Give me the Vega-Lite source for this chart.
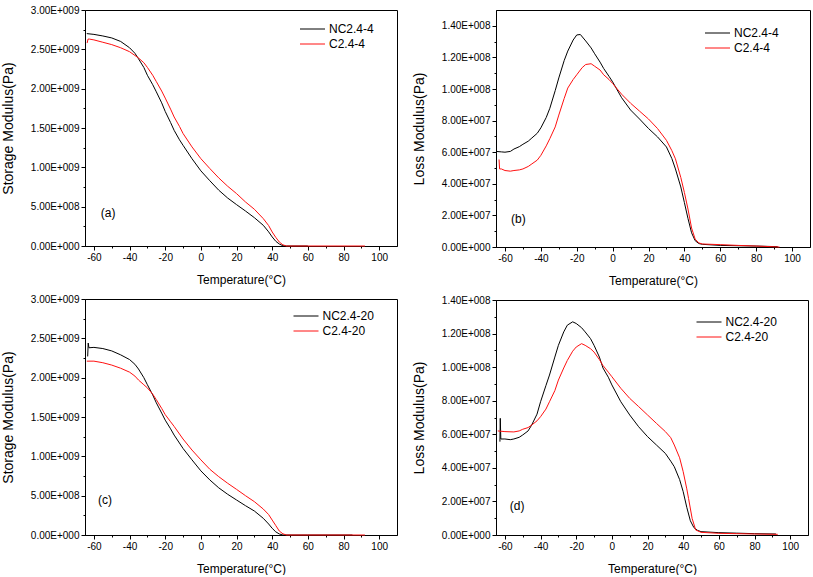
{
  "$schema": "https://vega.github.io/schema/vega-lite/v6.json",
  "padding": {"left": 0, "top": 4, "right": 2, "bottom": 0},
  "background": "white",
  "config": {
    "font": "Liberation Sans",
    "view": {"stroke": "#000000", "strokeWidth": 1},
    "axis": {"domainColor": "#000000", "tickColor": "#000000", "labelColor": "#000000", "titleColor": "#000000", "labelFontSize": 10, "labelFont": "Liberation Sans", "titleFont": "Liberation Sans", "titleFontWeight": "normal", "grid": false, "tickSize": 4, "labelPadding": 2, "labelOverlap": false, "labelFlush": false, "tickCount": 50},
    "legend": {"labelFontSize": 12, "labelFont": "Liberation Sans", "labelColor": "#000000", "symbolType": "M-2.5,0H2.5", "symbolSize": 100, "symbolStrokeWidth": 1, "rowPadding": 3, "labelOffset": 10.5, "padding": 0, "title": null},
    "text": {"font": "Liberation Sans", "fontSize": 12, "color": "#000000"}
  },
  "datasets": {
    "a": [
      {"s": "NC2.4-4", "T": -64, "v": 2.70e9}, {"s": "NC2.4-4", "T": -60, "v": 2.69e9}, {"s": "NC2.4-4", "T": -55, "v": 2.67e9}, {"s": "NC2.4-4", "T": -50, "v": 2.645e9}, {"s": "NC2.4-4", "T": -45, "v": 2.60e9}, {"s": "NC2.4-4", "T": -40, "v": 2.52e9}, {"s": "NC2.4-4", "T": -37, "v": 2.45e9}, {"s": "NC2.4-4", "T": -35, "v": 2.38e9}, {"s": "NC2.4-4", "T": -32, "v": 2.27e9}, {"s": "NC2.4-4", "T": -30, "v": 2.17e9}, {"s": "NC2.4-4", "T": -27, "v": 2.05e9}, {"s": "NC2.4-4", "T": -25, "v": 1.96e9}, {"s": "NC2.4-4", "T": -22, "v": 1.82e9}, {"s": "NC2.4-4", "T": -20, "v": 1.71e9}, {"s": "NC2.4-4", "T": -17, "v": 1.57e9}, {"s": "NC2.4-4", "T": -15, "v": 1.47e9}, {"s": "NC2.4-4", "T": -12, "v": 1.35e9}, {"s": "NC2.4-4", "T": -10, "v": 1.28e9}, {"s": "NC2.4-4", "T": -5, "v": 1.11e9}, {"s": "NC2.4-4", "T": 0, "v": 0.955e9}, {"s": "NC2.4-4", "T": 5, "v": 0.83e9}, {"s": "NC2.4-4", "T": 10, "v": 0.71e9}, {"s": "NC2.4-4", "T": 15, "v": 0.61e9}, {"s": "NC2.4-4", "T": 20, "v": 0.526e9}, {"s": "NC2.4-4", "T": 25, "v": 0.445e9}, {"s": "NC2.4-4", "T": 30, "v": 0.36e9}, {"s": "NC2.4-4", "T": 35, "v": 0.263e9}, {"s": "NC2.4-4", "T": 38, "v": 0.18e9}, {"s": "NC2.4-4", "T": 40, "v": 0.115e9}, {"s": "NC2.4-4", "T": 42, "v": 0.06e9}, {"s": "NC2.4-4", "T": 44, "v": 0.025e9}, {"s": "NC2.4-4", "T": 46, "v": 0.003e9}, {"s": "NC2.4-4", "T": 48, "v": 0}, {"s": "NC2.4-4", "T": 60, "v": 0},
      {"s": "C2.4-4", "T": -63.8, "v": 2.58e9}, {"s": "C2.4-4", "T": -63.3, "v": 2.63e9}, {"s": "C2.4-4", "T": -62.5, "v": 2.63e9}, {"s": "C2.4-4", "T": -60, "v": 2.62e9}, {"s": "C2.4-4", "T": -55, "v": 2.59e9}, {"s": "C2.4-4", "T": -50, "v": 2.56e9}, {"s": "C2.4-4", "T": -45, "v": 2.52e9}, {"s": "C2.4-4", "T": -40, "v": 2.47e9}, {"s": "C2.4-4", "T": -35, "v": 2.39e9}, {"s": "C2.4-4", "T": -32, "v": 2.33e9}, {"s": "C2.4-4", "T": -30, "v": 2.27e9}, {"s": "C2.4-4", "T": -27, "v": 2.17e9}, {"s": "C2.4-4", "T": -25, "v": 2.09e9}, {"s": "C2.4-4", "T": -22, "v": 1.97e9}, {"s": "C2.4-4", "T": -20, "v": 1.88e9}, {"s": "C2.4-4", "T": -17, "v": 1.74e9}, {"s": "C2.4-4", "T": -15, "v": 1.64e9}, {"s": "C2.4-4", "T": -12, "v": 1.52e9}, {"s": "C2.4-4", "T": -10, "v": 1.43e9}, {"s": "C2.4-4", "T": -5, "v": 1.26e9}, {"s": "C2.4-4", "T": 0, "v": 1.11e9}, {"s": "C2.4-4", "T": 5, "v": 0.985e9}, {"s": "C2.4-4", "T": 10, "v": 0.866e9}, {"s": "C2.4-4", "T": 15, "v": 0.76e9}, {"s": "C2.4-4", "T": 20, "v": 0.666e9}, {"s": "C2.4-4", "T": 25, "v": 0.56e9}, {"s": "C2.4-4", "T": 30, "v": 0.467e9}, {"s": "C2.4-4", "T": 35, "v": 0.348e9}, {"s": "C2.4-4", "T": 38, "v": 0.26e9}, {"s": "C2.4-4", "T": 40, "v": 0.178e9}, {"s": "C2.4-4", "T": 42, "v": 0.11e9}, {"s": "C2.4-4", "T": 44, "v": 0.05e9}, {"s": "C2.4-4", "T": 46, "v": 0.015e9}, {"s": "C2.4-4", "T": 48, "v": 0}, {"s": "C2.4-4", "T": 60, "v": 0}, {"s": "C2.4-4", "T": 92, "v": 0}
    ],
    "b": [
      {"s": "NC2.4-4", "T": -65, "v": 6.05e7}, {"s": "NC2.4-4", "T": -62, "v": 6.02e7}, {"s": "NC2.4-4", "T": -60, "v": 6.0e7}, {"s": "NC2.4-4", "T": -57, "v": 6.05e7}, {"s": "NC2.4-4", "T": -55, "v": 6.2e7}, {"s": "NC2.4-4", "T": -52, "v": 6.35e7}, {"s": "NC2.4-4", "T": -50, "v": 6.5e7}, {"s": "NC2.4-4", "T": -47, "v": 6.7e7}, {"s": "NC2.4-4", "T": -45, "v": 6.9e7}, {"s": "NC2.4-4", "T": -42, "v": 7.2e7}, {"s": "NC2.4-4", "T": -40, "v": 7.54e7}, {"s": "NC2.4-4", "T": -37, "v": 8.2e7}, {"s": "NC2.4-4", "T": -35, "v": 8.78e7}, {"s": "NC2.4-4", "T": -32, "v": 9.9e7}, {"s": "NC2.4-4", "T": -30, "v": 10.7e7}, {"s": "NC2.4-4", "T": -27, "v": 11.8e7}, {"s": "NC2.4-4", "T": -25, "v": 12.4e7}, {"s": "NC2.4-4", "T": -22, "v": 13.1e7}, {"s": "NC2.4-4", "T": -20, "v": 13.42e7}, {"s": "NC2.4-4", "T": -18, "v": 13.45e7}, {"s": "NC2.4-4", "T": -15, "v": 13.04e7}, {"s": "NC2.4-4", "T": -12, "v": 12.6e7}, {"s": "NC2.4-4", "T": -10, "v": 12.23e7}, {"s": "NC2.4-4", "T": -7, "v": 11.7e7}, {"s": "NC2.4-4", "T": -5, "v": 11.3e7}, {"s": "NC2.4-4", "T": -2, "v": 10.8e7}, {"s": "NC2.4-4", "T": 0, "v": 10.45e7}, {"s": "NC2.4-4", "T": 5, "v": 9.45e7}, {"s": "NC2.4-4", "T": 10, "v": 8.67e7}, {"s": "NC2.4-4", "T": 15, "v": 8.1e7}, {"s": "NC2.4-4", "T": 20, "v": 7.5e7}, {"s": "NC2.4-4", "T": 25, "v": 6.97e7}, {"s": "NC2.4-4", "T": 30, "v": 6.33e7}, {"s": "NC2.4-4", "T": 33, "v": 5.6e7}, {"s": "NC2.4-4", "T": 35, "v": 4.94e7}, {"s": "NC2.4-4", "T": 38, "v": 3.8e7}, {"s": "NC2.4-4", "T": 40, "v": 2.81e7}, {"s": "NC2.4-4", "T": 42, "v": 1.8e7}, {"s": "NC2.4-4", "T": 44, "v": 0.9e7}, {"s": "NC2.4-4", "T": 46, "v": 0.4e7}, {"s": "NC2.4-4", "T": 48, "v": 0.22e7}, {"s": "NC2.4-4", "T": 50, "v": 0.17e7}, {"s": "NC2.4-4", "T": 60, "v": 0.1e7}, {"s": "NC2.4-4", "T": 70, "v": 0.08e7}, {"s": "NC2.4-4", "T": 80, "v": 0.06e7}, {"s": "NC2.4-4", "T": 92, "v": 0.02e7},
      {"s": "C2.4-4", "T": -63.3, "v": 5.54e7}, {"s": "C2.4-4", "T": -63, "v": 4.94e7}, {"s": "C2.4-4", "T": -62, "v": 4.94e7}, {"s": "C2.4-4", "T": -60, "v": 4.84e7}, {"s": "C2.4-4", "T": -57, "v": 4.8e7}, {"s": "C2.4-4", "T": -55, "v": 4.84e7}, {"s": "C2.4-4", "T": -52, "v": 4.88e7}, {"s": "C2.4-4", "T": -50, "v": 4.94e7}, {"s": "C2.4-4", "T": -47, "v": 5.1e7}, {"s": "C2.4-4", "T": -45, "v": 5.26e7}, {"s": "C2.4-4", "T": -42, "v": 5.5e7}, {"s": "C2.4-4", "T": -40, "v": 5.8e7}, {"s": "C2.4-4", "T": -37, "v": 6.4e7}, {"s": "C2.4-4", "T": -35, "v": 6.86e7}, {"s": "C2.4-4", "T": -32, "v": 7.6e7}, {"s": "C2.4-4", "T": -30, "v": 8.35e7}, {"s": "C2.4-4", "T": -27, "v": 9.4e7}, {"s": "C2.4-4", "T": -25, "v": 10.06e7}, {"s": "C2.4-4", "T": -22, "v": 10.6e7}, {"s": "C2.4-4", "T": -20, "v": 10.9e7}, {"s": "C2.4-4", "T": -17, "v": 11.35e7}, {"s": "C2.4-4", "T": -15, "v": 11.55e7}, {"s": "C2.4-4", "T": -12, "v": 11.6e7}, {"s": "C2.4-4", "T": -10, "v": 11.44e7}, {"s": "C2.4-4", "T": -7, "v": 11.2e7}, {"s": "C2.4-4", "T": -5, "v": 10.9e7}, {"s": "C2.4-4", "T": -2, "v": 10.6e7}, {"s": "C2.4-4", "T": 0, "v": 10.35e7}, {"s": "C2.4-4", "T": 5, "v": 9.67e7}, {"s": "C2.4-4", "T": 10, "v": 9.1e7}, {"s": "C2.4-4", "T": 15, "v": 8.6e7}, {"s": "C2.4-4", "T": 20, "v": 8.1e7}, {"s": "C2.4-4", "T": 25, "v": 7.5e7}, {"s": "C2.4-4", "T": 30, "v": 6.75e7}, {"s": "C2.4-4", "T": 33, "v": 6.1e7}, {"s": "C2.4-4", "T": 35, "v": 5.58e7}, {"s": "C2.4-4", "T": 38, "v": 4.4e7}, {"s": "C2.4-4", "T": 40, "v": 3.45e7}, {"s": "C2.4-4", "T": 42, "v": 2.4e7}, {"s": "C2.4-4", "T": 44, "v": 1.2e7}, {"s": "C2.4-4", "T": 46, "v": 0.5e7}, {"s": "C2.4-4", "T": 48, "v": 0.26e7}, {"s": "C2.4-4", "T": 50, "v": 0.19e7}, {"s": "C2.4-4", "T": 60, "v": 0.15e7}, {"s": "C2.4-4", "T": 70, "v": 0.1e7}, {"s": "C2.4-4", "T": 80, "v": 0.06e7}, {"s": "C2.4-4", "T": 93, "v": 0.0}
    ],
    "c": [
      {"s": "NC2.4-20", "T": -63.5, "v": 2.27e9}, {"s": "NC2.4-20", "T": -63.2, "v": 2.44e9}, {"s": "NC2.4-20", "T": -62.8, "v": 2.38e9}, {"s": "NC2.4-20", "T": -60, "v": 2.385e9}, {"s": "NC2.4-20", "T": -55, "v": 2.37e9}, {"s": "NC2.4-20", "T": -50, "v": 2.34e9}, {"s": "NC2.4-20", "T": -45, "v": 2.29e9}, {"s": "NC2.4-20", "T": -40, "v": 2.23e9}, {"s": "NC2.4-20", "T": -37, "v": 2.17e9}, {"s": "NC2.4-20", "T": -35, "v": 2.11e9}, {"s": "NC2.4-20", "T": -32, "v": 2.0e9}, {"s": "NC2.4-20", "T": -30, "v": 1.91e9}, {"s": "NC2.4-20", "T": -27, "v": 1.78e9}, {"s": "NC2.4-20", "T": -25, "v": 1.68e9}, {"s": "NC2.4-20", "T": -22, "v": 1.55e9}, {"s": "NC2.4-20", "T": -20, "v": 1.46e9}, {"s": "NC2.4-20", "T": -17, "v": 1.35e9}, {"s": "NC2.4-20", "T": -15, "v": 1.27e9}, {"s": "NC2.4-20", "T": -10, "v": 1.10e9}, {"s": "NC2.4-20", "T": -5, "v": 0.955e9}, {"s": "NC2.4-20", "T": 0, "v": 0.815e9}, {"s": "NC2.4-20", "T": 5, "v": 0.70e9}, {"s": "NC2.4-20", "T": 10, "v": 0.60e9}, {"s": "NC2.4-20", "T": 15, "v": 0.518e9}, {"s": "NC2.4-20", "T": 20, "v": 0.445e9}, {"s": "NC2.4-20", "T": 25, "v": 0.373e9}, {"s": "NC2.4-20", "T": 30, "v": 0.305e9}, {"s": "NC2.4-20", "T": 35, "v": 0.212e9}, {"s": "NC2.4-20", "T": 38, "v": 0.14e9}, {"s": "NC2.4-20", "T": 40, "v": 0.085e9}, {"s": "NC2.4-20", "T": 42, "v": 0.04e9}, {"s": "NC2.4-20", "T": 44, "v": 0.013e9}, {"s": "NC2.4-20", "T": 46, "v": 0}, {"s": "NC2.4-20", "T": 60, "v": 0}, {"s": "NC2.4-20", "T": 85, "v": 0},
      {"s": "C2.4-20", "T": -64, "v": 2.21e9}, {"s": "C2.4-20", "T": -60, "v": 2.21e9}, {"s": "C2.4-20", "T": -55, "v": 2.19e9}, {"s": "C2.4-20", "T": -50, "v": 2.16e9}, {"s": "C2.4-20", "T": -45, "v": 2.12e9}, {"s": "C2.4-20", "T": -40, "v": 2.07e9}, {"s": "C2.4-20", "T": -37, "v": 2.02e9}, {"s": "C2.4-20", "T": -35, "v": 1.97e9}, {"s": "C2.4-20", "T": -32, "v": 1.91e9}, {"s": "C2.4-20", "T": -30, "v": 1.87e9}, {"s": "C2.4-20", "T": -27, "v": 1.79e9}, {"s": "C2.4-20", "T": -25, "v": 1.72e9}, {"s": "C2.4-20", "T": -22, "v": 1.61e9}, {"s": "C2.4-20", "T": -20, "v": 1.53e9}, {"s": "C2.4-20", "T": -17, "v": 1.44e9}, {"s": "C2.4-20", "T": -15, "v": 1.38e9}, {"s": "C2.4-20", "T": -10, "v": 1.22e9}, {"s": "C2.4-20", "T": -5, "v": 1.08e9}, {"s": "C2.4-20", "T": 0, "v": 0.955e9}, {"s": "C2.4-20", "T": 5, "v": 0.836e9}, {"s": "C2.4-20", "T": 10, "v": 0.742e9}, {"s": "C2.4-20", "T": 15, "v": 0.658e9}, {"s": "C2.4-20", "T": 20, "v": 0.58e9}, {"s": "C2.4-20", "T": 25, "v": 0.50e9}, {"s": "C2.4-20", "T": 30, "v": 0.424e9}, {"s": "C2.4-20", "T": 35, "v": 0.33e9}, {"s": "C2.4-20", "T": 38, "v": 0.26e9}, {"s": "C2.4-20", "T": 40, "v": 0.19e9}, {"s": "C2.4-20", "T": 42, "v": 0.12e9}, {"s": "C2.4-20", "T": 44, "v": 0.05e9}, {"s": "C2.4-20", "T": 46, "v": 0.015e9}, {"s": "C2.4-20", "T": 48, "v": 0}, {"s": "C2.4-20", "T": 60, "v": 0}, {"s": "C2.4-20", "T": 92, "v": 0}
    ],
    "d": [
      {"s": "NC2.4-20", "T": -62.8, "v": 5.56e7}, {"s": "NC2.4-20", "T": -62.6, "v": 6.95e7}, {"s": "NC2.4-20", "T": -62.3, "v": 5.72e7}, {"s": "NC2.4-20", "T": -60, "v": 5.72e7}, {"s": "NC2.4-20", "T": -57, "v": 5.68e7}, {"s": "NC2.4-20", "T": -55, "v": 5.72e7}, {"s": "NC2.4-20", "T": -52, "v": 5.82e7}, {"s": "NC2.4-20", "T": -50, "v": 5.96e7}, {"s": "NC2.4-20", "T": -47, "v": 6.2e7}, {"s": "NC2.4-20", "T": -45, "v": 6.55e7}, {"s": "NC2.4-20", "T": -42, "v": 7.2e7}, {"s": "NC2.4-20", "T": -40, "v": 7.94e7}, {"s": "NC2.4-20", "T": -37, "v": 8.9e7}, {"s": "NC2.4-20", "T": -35, "v": 9.53e7}, {"s": "NC2.4-20", "T": -32, "v": 10.6e7}, {"s": "NC2.4-20", "T": -30, "v": 11.3e7}, {"s": "NC2.4-20", "T": -27, "v": 12.1e7}, {"s": "NC2.4-20", "T": -25, "v": 12.5e7}, {"s": "NC2.4-20", "T": -22, "v": 12.7e7}, {"s": "NC2.4-20", "T": -20, "v": 12.6e7}, {"s": "NC2.4-20", "T": -17, "v": 12.35e7}, {"s": "NC2.4-20", "T": -15, "v": 12.1e7}, {"s": "NC2.4-20", "T": -12, "v": 11.7e7}, {"s": "NC2.4-20", "T": -10, "v": 11.3e7}, {"s": "NC2.4-20", "T": -7, "v": 10.6e7}, {"s": "NC2.4-20", "T": -5, "v": 9.95e7}, {"s": "NC2.4-20", "T": -2, "v": 9.4e7}, {"s": "NC2.4-20", "T": 0, "v": 8.94e7}, {"s": "NC2.4-20", "T": 5, "v": 7.94e7}, {"s": "NC2.4-20", "T": 10, "v": 7.15e7}, {"s": "NC2.4-20", "T": 15, "v": 6.45e7}, {"s": "NC2.4-20", "T": 20, "v": 5.86e7}, {"s": "NC2.4-20", "T": 25, "v": 5.36e7}, {"s": "NC2.4-20", "T": 30, "v": 4.86e7}, {"s": "NC2.4-20", "T": 33, "v": 4.4e7}, {"s": "NC2.4-20", "T": 35, "v": 4.07e7}, {"s": "NC2.4-20", "T": 38, "v": 3.3e7}, {"s": "NC2.4-20", "T": 40, "v": 2.58e7}, {"s": "NC2.4-20", "T": 42, "v": 1.65e7}, {"s": "NC2.4-20", "T": 44, "v": 0.85e7}, {"s": "NC2.4-20", "T": 46, "v": 0.44e7}, {"s": "NC2.4-20", "T": 48, "v": 0.28e7}, {"s": "NC2.4-20", "T": 50, "v": 0.2e7}, {"s": "NC2.4-20", "T": 60, "v": 0.14e7}, {"s": "NC2.4-20", "T": 70, "v": 0.11e7}, {"s": "NC2.4-20", "T": 80, "v": 0.08e7}, {"s": "NC2.4-20", "T": 92, "v": 0.06e7},
      {"s": "C2.4-20", "T": -64, "v": 6.2e7}, {"s": "C2.4-20", "T": -60, "v": 6.16e7}, {"s": "C2.4-20", "T": -55, "v": 6.14e7}, {"s": "C2.4-20", "T": -52, "v": 6.2e7}, {"s": "C2.4-20", "T": -50, "v": 6.3e7}, {"s": "C2.4-20", "T": -47, "v": 6.4e7}, {"s": "C2.4-20", "T": -45, "v": 6.55e7}, {"s": "C2.4-20", "T": -42, "v": 6.8e7}, {"s": "C2.4-20", "T": -40, "v": 7.05e7}, {"s": "C2.4-20", "T": -37, "v": 7.5e7}, {"s": "C2.4-20", "T": -35, "v": 7.94e7}, {"s": "C2.4-20", "T": -32, "v": 8.6e7}, {"s": "C2.4-20", "T": -30, "v": 9.23e7}, {"s": "C2.4-20", "T": -27, "v": 9.95e7}, {"s": "C2.4-20", "T": -25, "v": 10.4e7}, {"s": "C2.4-20", "T": -22, "v": 10.95e7}, {"s": "C2.4-20", "T": -20, "v": 11.2e7}, {"s": "C2.4-20", "T": -17, "v": 11.4e7}, {"s": "C2.4-20", "T": -15, "v": 11.3e7}, {"s": "C2.4-20", "T": -12, "v": 11.1e7}, {"s": "C2.4-20", "T": -10, "v": 10.9e7}, {"s": "C2.4-20", "T": -7, "v": 10.45e7}, {"s": "C2.4-20", "T": -5, "v": 10.1e7}, {"s": "C2.4-20", "T": -2, "v": 9.7e7}, {"s": "C2.4-20", "T": 0, "v": 9.43e7}, {"s": "C2.4-20", "T": 5, "v": 8.74e7}, {"s": "C2.4-20", "T": 10, "v": 8.14e7}, {"s": "C2.4-20", "T": 15, "v": 7.65e7}, {"s": "C2.4-20", "T": 20, "v": 7.15e7}, {"s": "C2.4-20", "T": 25, "v": 6.65e7}, {"s": "C2.4-20", "T": 30, "v": 6.16e7}, {"s": "C2.4-20", "T": 33, "v": 5.8e7}, {"s": "C2.4-20", "T": 35, "v": 5.36e7}, {"s": "C2.4-20", "T": 38, "v": 4.6e7}, {"s": "C2.4-20", "T": 40, "v": 3.77e7}, {"s": "C2.4-20", "T": 42, "v": 2.75e7}, {"s": "C2.4-20", "T": 43, "v": 2.18e7}, {"s": "C2.4-20", "T": 45, "v": 0.99e7}, {"s": "C2.4-20", "T": 47, "v": 0.3e7}, {"s": "C2.4-20", "T": 50, "v": 0.16e7}, {"s": "C2.4-20", "T": 60, "v": 0.1e7}, {"s": "C2.4-20", "T": 70, "v": 0.08e7}, {"s": "C2.4-20", "T": 80, "v": 0.06e7}, {"s": "C2.4-20", "T": 93, "v": 0.04e7}
    ],
    "labels": [
      {"panel": "a", "T": -52, "v": 4.2e8, "label": "(a)"},
      {"panel": "b", "T": -52.5, "v": 1.79e7, "label": "(b)"},
      {"panel": "c", "T": -53.8, "v": 4.45e8, "label": "(c)"},
      {"panel": "d", "T": -53.2, "v": 1.75e7, "label": "(d)"}
    ]
  },
  "spacing": 13,
  "resolve": {"scale": {"color": "independent"}, "legend": {"color": "independent"}},
  "hconcat": [
    {
      "spacing": 7,
      "resolve": {"scale": {"color": "independent"}, "legend": {"color": "independent"}},
      "vconcat": [
        {
          "width": 312, "height": 236,
          "layer": [
            {
              "data": {"name": "a"},
              "mark": {"type": "line", "strokeWidth": 1},
              "encoding": {
                "x": {"field": "T", "type": "quantitative", "scale": {"domain": [-65, 110], "nice": false, "zero": false},
                  "axis": {"title": "Temperature(°C)", "titleFontSize": 12, "titlePadding": 12, "labelOverlap": false, "tickCount": 50, "values": [-60, -50, -40, -30, -20, -10, 0, 10, 20, 30, 40, 50, 60, 70, 80, 90, 100], "labelExpr": "datum.value % 20 !== 0 ? '' : (datum.value < 0 ? '-' + abs(datum.value) : '' + datum.value)", "tickSize": {"condition": {"test": "datum.value % 20 !== 0", "value": 2}, "value": 4}}},
                "y": {"field": "v", "type": "quantitative", "scale": {"domain": [0, 3e9], "nice": false},
                  "axis": {"title": "Storage Modulus(Pa)", "titleFontSize": 14, "titlePadding": 15, "labelOverlap": false, "tickCount": 50, "values": [0, 2.5e8, 5e8, 7.5e8, 1e9, 1.25e9, 1.5e9, 1.75e9, 2e9, 2.25e9, 2.5e9, 2.75e9, 3e9], "labelExpr": "datum.value % 5e8 !== 0 ? '' : (datum.value === 0 ? '0.00E+000' : format(datum.value / pow(10, floor(log(datum.value)/LN10 + 1e-9)), '.2f') + 'E+00' + floor(log(datum.value)/LN10 + 1e-9))", "tickSize": {"condition": {"test": "datum.value % 5e8 !== 0", "value": 2}, "value": 4}}},
                "color": {"field": "s", "type": "nominal", "scale": {"domain": ["NC2.4-4", "C2.4-4"], "range": ["#000000", "#ff1010"]}, "legend": {"orient": "none", "legendX": 221.5, "legendY": 13}}
              }
            },
            {
              "data": {"name": "labels"},
              "transform": [{"filter": "datum.panel === 'a'"}],
              "mark": {"type": "text"},
              "encoding": {"x": {"field": "T", "type": "quantitative"}, "y": {"field": "v", "type": "quantitative"}, "text": {"field": "label"}}
            }
          ]
        },
        {
          "width": 312, "height": 236,
          "layer": [
            {
              "data": {"name": "c"},
              "mark": {"type": "line", "strokeWidth": 1},
              "encoding": {
                "x": {"field": "T", "type": "quantitative", "scale": {"domain": [-65, 110], "nice": false, "zero": false},
                  "axis": {"title": "Temperature(°C)", "titleFontSize": 12, "titlePadding": 12, "labelOverlap": false, "tickCount": 50, "values": [-60, -50, -40, -30, -20, -10, 0, 10, 20, 30, 40, 50, 60, 70, 80, 90, 100], "labelExpr": "datum.value % 20 !== 0 ? '' : (datum.value < 0 ? '-' + abs(datum.value) : '' + datum.value)", "tickSize": {"condition": {"test": "datum.value % 20 !== 0", "value": 2}, "value": 4}}},
                "y": {"field": "v", "type": "quantitative", "scale": {"domain": [0, 3e9], "nice": false},
                  "axis": {"title": "Storage Modulus(Pa)", "titleFontSize": 14, "titlePadding": 15, "labelOverlap": false, "tickCount": 50, "values": [0, 2.5e8, 5e8, 7.5e8, 1e9, 1.25e9, 1.5e9, 1.75e9, 2e9, 2.25e9, 2.5e9, 2.75e9, 3e9], "labelExpr": "datum.value % 5e8 !== 0 ? '' : (datum.value === 0 ? '0.00E+000' : format(datum.value / pow(10, floor(log(datum.value)/LN10 + 1e-9)), '.2f') + 'E+00' + floor(log(datum.value)/LN10 + 1e-9))", "tickSize": {"condition": {"test": "datum.value % 5e8 !== 0", "value": 2}, "value": 4}}},
                "color": {"field": "s", "type": "nominal", "scale": {"domain": ["NC2.4-20", "C2.4-20"], "range": ["#000000", "#ff1010"]}, "legend": {"orient": "none", "legendX": 215, "legendY": 11}}
              }
            },
            {
              "data": {"name": "labels"},
              "transform": [{"filter": "datum.panel === 'c'"}],
              "mark": {"type": "text"},
              "encoding": {"x": {"field": "T", "type": "quantitative"}, "y": {"field": "v", "type": "quantitative"}, "text": {"field": "label"}}
            }
          ]
        }
      ]
    },
    {
      "spacing": 7,
      "resolve": {"scale": {"color": "independent"}, "legend": {"color": "independent"}},
      "vconcat": [
        {
          "width": 314, "height": 237,
          "layer": [
            {
              "data": {"name": "b"},
              "mark": {"type": "line", "strokeWidth": 1},
              "encoding": {
                "x": {"field": "T", "type": "quantitative", "scale": {"domain": [-65, 110], "nice": false, "zero": false},
                  "axis": {"title": "Temperature(°C)", "titleFontSize": 12, "titlePadding": 12, "labelOverlap": false, "tickCount": 50, "values": [-60, -50, -40, -30, -20, -10, 0, 10, 20, 30, 40, 50, 60, 70, 80, 90, 100], "labelExpr": "datum.value % 20 !== 0 ? '' : (datum.value < 0 ? '-' + abs(datum.value) : '' + datum.value)", "tickSize": {"condition": {"test": "datum.value % 20 !== 0", "value": 2}, "value": 4}}},
                "y": {"field": "v", "type": "quantitative", "scale": {"domain": [0, 1.5e8], "nice": false},
                  "axis": {"title": "Loss Modulus(Pa)", "titleFontSize": 14, "titlePadding": 15, "labelOverlap": false, "tickCount": 50, "values": [0, 1e7, 2e7, 3e7, 4e7, 5e7, 6e7, 7e7, 8e7, 9e7, 1e8, 1.1e8, 1.2e8, 1.3e8, 1.4e8], "labelExpr": "datum.value % 2e7 !== 0 ? '' : (datum.value === 0 ? '0.00E+000' : format(datum.value / pow(10, floor(log(datum.value)/LN10 + 1e-9)), '.2f') + 'E+00' + floor(log(datum.value)/LN10 + 1e-9))", "tickSize": {"condition": {"test": "datum.value % 2e7 !== 0", "value": 2}, "value": 4}}},
                "color": {"field": "s", "type": "nominal", "scale": {"domain": ["NC2.4-4", "C2.4-4"], "range": ["#000000", "#ff1010"]}, "legend": {"orient": "none", "legendX": 215.5, "legendY": 17}}
              }
            },
            {
              "data": {"name": "labels"},
              "transform": [{"filter": "datum.panel === 'b'"}],
              "mark": {"type": "text"},
              "encoding": {"x": {"field": "T", "type": "quantitative"}, "y": {"field": "v", "type": "quantitative"}, "text": {"field": "label"}}
            }
          ]
        },
        {
          "width": 312, "height": 235,
          "layer": [
            {
              "data": {"name": "d"},
              "mark": {"type": "line", "strokeWidth": 1},
              "encoding": {
                "x": {"field": "T", "type": "quantitative", "scale": {"domain": [-65, 110], "nice": false, "zero": false},
                  "axis": {"title": "Temperature(°C)", "titleFontSize": 12, "titlePadding": 12, "labelOverlap": false, "tickCount": 50, "values": [-60, -50, -40, -30, -20, -10, 0, 10, 20, 30, 40, 50, 60, 70, 80, 90, 100], "labelExpr": "datum.value % 20 !== 0 ? '' : (datum.value < 0 ? '-' + abs(datum.value) : '' + datum.value)", "tickSize": {"condition": {"test": "datum.value % 20 !== 0", "value": 2}, "value": 4}}},
                "y": {"field": "v", "type": "quantitative", "scale": {"domain": [0, 1.4e8], "nice": false},
                  "axis": {"title": "Loss Modulus(Pa)", "titleFontSize": 14, "titlePadding": 15, "labelOverlap": false, "tickCount": 50, "values": [0, 1e7, 2e7, 3e7, 4e7, 5e7, 6e7, 7e7, 8e7, 9e7, 1e8, 1.1e8, 1.2e8, 1.3e8, 1.4e8], "labelExpr": "datum.value % 2e7 !== 0 ? '' : (datum.value === 0 ? '0.00E+000' : format(datum.value / pow(10, floor(log(datum.value)/LN10 + 1e-9)), '.2f') + 'E+00' + floor(log(datum.value)/LN10 + 1e-9))", "tickSize": {"condition": {"test": "datum.value % 2e7 !== 0", "value": 2}, "value": 4}}},
                "color": {"field": "s", "type": "nominal", "scale": {"domain": ["NC2.4-20", "C2.4-20"], "range": ["#000000", "#ff1010"]}, "legend": {"orient": "none", "legendX": 207, "legendY": 16}}
              }
            },
            {
              "data": {"name": "labels"},
              "transform": [{"filter": "datum.panel === 'd'"}],
              "mark": {"type": "text"},
              "encoding": {"x": {"field": "T", "type": "quantitative"}, "y": {"field": "v", "type": "quantitative"}, "text": {"field": "label"}}
            }
          ]
        }
      ]
    }
  ]
}
